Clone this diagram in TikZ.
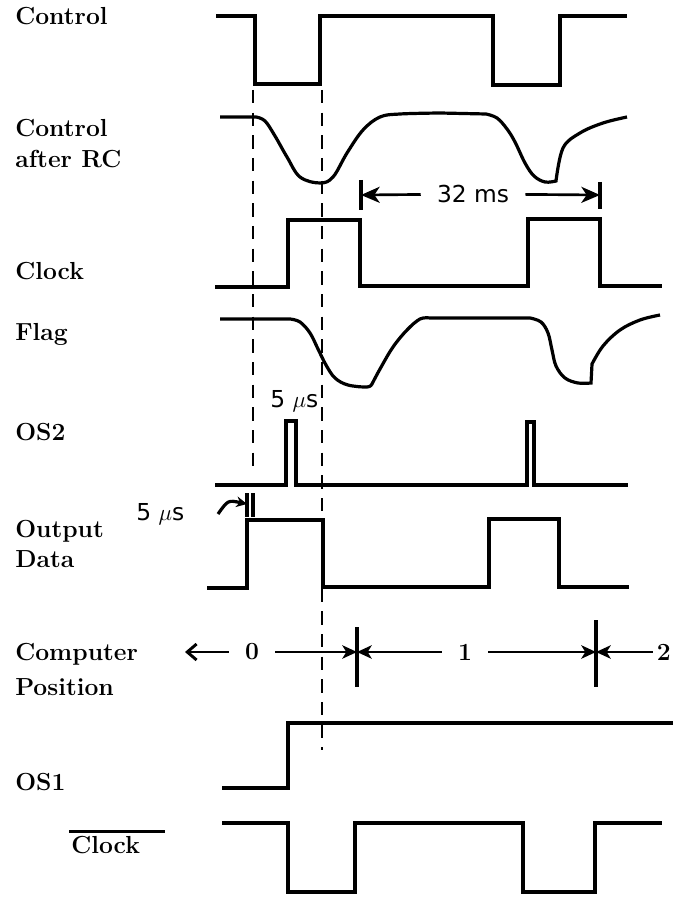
\documentclass[tikz,border=0pt]{standalone}
\usepackage{fontspec}
\usepackage{tikz}
\usetikzlibrary{arrows.meta,positioning,calc}
\newfontfamily\dimfont{DejaVu Sans}

\tikzset{
  wave/.style={line width=2.4pt,line join=miter},
  guide/.style={line width=2.2pt,dash pattern=on 10pt off 7pt},
  sig/.style={anchor=base west,inner sep=0pt,font=\fontsize{18.5}{22}\selectfont\bfseries},
  dimtxt/.style={inner sep=0pt,font=\dimfont\fontsize{17.5}{21}\selectfont},
  dimline/.style={line width=2pt,-{Stealth[length=14pt,width=12pt,inset=4pt]}},
  posline/.style={line width=2pt,-{Stealth[length=11pt,width=10pt,inset=3pt]}},
  backarrow/.style={line width=2.2pt,-{Straight Barb[length=7pt,width=12pt]}},
  posnum/.style={inner ysep=0pt,inner xsep=12pt,font=\fontsize{18.5}{22}\selectfont\bfseries},
}

\begin{document}
\begin{tikzpicture}[x=0.75pt,y=-0.75pt]
\useasboundingbox (0,0) rectangle (673,898);

% signal names
\node[sig] (control) at (15,25) {Control};
\node[sig] (rcA) at (15,137) {Control};
\node[sig] (rcB) at (15,168) {after RC};
\node[sig] (clock) at (15,280) {Clock};
\node[sig] (flag) at (15,340) {Flag};
\node[sig] (osTwo) at (15,440) {OS2};
\node[sig] (outA) at (15,537) {Output};
\node[sig] (outB) at (15,567) {Data};
\node[sig] (compA) at (15,660) {Computer};
\node[sig] (compB) at (15,695) {Position};
\node[sig] (osOne) at (15,790) {OS1};
\node[sig] (nclock) at (71,853) {Clock};
\draw[line width=1.6pt] (nclock.north west) ++(-2,-4) -- ++(96,0);

% waveforms
\draw[wave] (216,16) -- (255,16) -- (255,84) -- (320,84) -- (320,16) -- (493,16) -- (493,85) -- (560,85) -- (560,16) -- (627,16);
\draw[wave] (220,117) -- (256,117) -- plot[smooth,tension=0.6] coordinates {(256,117) (265,121) (275,136) (287,157) (300,177) (320,183) (333,177) (347,153) (363,130) (380,117) (400,114) (440,113)}
  -- (486,114) -- plot[smooth,tension=0.6] coordinates {(486,114) (497,118) (507,129) (515,142) (525,163) (534,176) (545,182) (556,181)}
  -- plot[smooth,tension=0.6] coordinates {(556,181) (563,148) (580,133) (603,123) (627,117)};
\draw[wave] (215,287) -- (288,287) -- (288,220) -- (360,220) -- (360,286) -- (528,286) -- (528,219) -- (600,219) -- (600,286) -- (662,286);
\draw[wave] (220,319) -- (290,319) -- plot[smooth,tension=0.6] coordinates {(290,319) (300,322) (310,333) (318,349) (326,365) (335,378) (348,385) (367,387) (372,384)}
  -- plot[smooth,tension=0.6] coordinates {(372,384) (380,369) (393,347) (407,330) (420,319) (430,318)}
  -- (530,318) -- plot[smooth,tension=0.6] coordinates {(530,318) (541,322) (548,333) (552,350) (556,366) (565,378) (578,383) (591,383)}
  -- (592,364) -- plot[smooth,tension=0.6] coordinates {(592,364) (603,346) (620,330) (640,320) (660,315)};
\draw[wave] (215,485) -- (286,485) -- (286,421) -- (296,421) -- (296,485) -- (527,485) -- (527,422) -- (534,422) -- (534,485) -- (628,485);
\draw[wave] (207,588) -- (247,588) -- (247,520) -- (323,520) -- (323,587) -- (489,587) -- (489,519) -- (559,519) -- (559,587) -- (629,587);
\draw[wave] (222,788) -- (288,788) -- (288,723) -- (680,723);
\draw[wave] (222,823) -- (288,823) -- (288,892) -- (355,892) -- (355,823) -- (523,823) -- (523,892) -- (595,892) -- (595,823) -- (662,823);

% timing guides
\draw[guide] (253,90) -- (253,470);
\draw[guide] (322,90) -- (322,750);

% 32 ms
\node[dimtxt,inner xsep=12pt] (ms) at (473,194) {32 ms};
\coordinate (msL) at (361,195);
\coordinate (msR) at (600,195);
\draw[dimline] (ms) -- (msL);
\draw[dimline] (ms) -- (msR);
\draw[wave] (msL) ++(0,-15) -- ++(0,30);
\draw[wave] (msR) ++(0,-13) -- ++(0,27);

% 5 us marks
\node[dimtxt,anchor=base west] (usTop) at (270,407) {5 $\mu$s};
\node[dimtxt,anchor=base west] (usLow) at (136,520) {5 $\mu$s};
\draw[wave] (247,493) -- (247,517);
\draw[wave] (253,493) -- (253,517);
\coordinate (usA) at (218,514);
\coordinate (usB) at (247,504);
\draw[line width=2.4pt,-{Stealth[length=8pt,width=8pt]}] (usA) .. controls (228,500) .. (usB);

% computer position
\node[posnum] (posZero) at (252,652) {0};
\node[posnum] (posOne) at (465,652) {1};
\node[posnum,inner xsep=3pt,anchor=east] (posTwo) at (675,652) {2};
\coordinate (posEnd) at (185,652);
\coordinate (barA) at (357,652);
\coordinate (barB) at (596,652);
\draw[backarrow] (posZero) -- (posEnd);
\draw[posline] (posZero) -- (barA);
\draw[posline] (posOne) -- (barA);
\draw[posline] (posOne) -- (barB);
\draw[posline] (posTwo) -- (barB);
\draw[wave] (barA) ++(0,-25) -- ++(0,60);
\draw[wave] (barB) ++(0,-32) -- ++(0,67);
\end{tikzpicture}
\end{document}
